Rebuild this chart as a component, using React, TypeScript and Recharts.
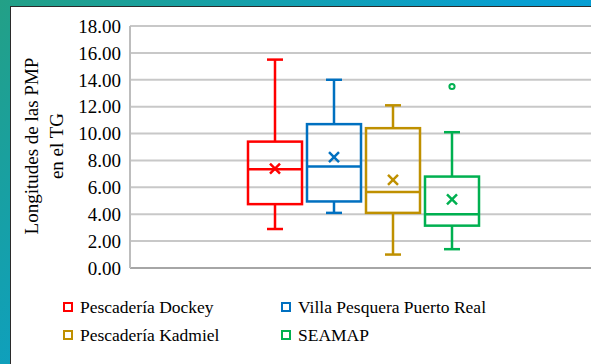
import React from "react";
import { BarChart, Bar, XAxis, YAxis, CartesianGrid, Label } from "recharts";

const SERIES = [
  "Pescadería Dockey",
  "Villa Pesquera Puerto Real",
  "Pescadería Kadmiel",
  "SEAMAP",
];
const COLORS = ["#ff0000", "#0070c0", "#bf9000", "#00b050"];
const MIN = [2.9, 4.1, 1.0, 1.4];
const Q1 = [4.75, 4.95, 4.1, 3.15];
const MEDIAN = [7.35, 7.55, 5.65, 4.0];
const Q3 = [9.4, 10.7, 10.4, 6.8];
const MAX = [15.5, 14.0, 12.1, 10.1];
const MEAN = [7.4, 8.25, 6.55, 5.1];
const OUTLIERS: number[][] = [[], [], [], [13.5]];
const Y_TICKS = [0, 2, 4, 6, 8, 10, 12, 14, 16, 18];

const FONT = "'Liberation Serif', serif";

// one category, one range bar [q1, q3] per series
const row: Record<string, any> = { cat: "" };
SERIES.forEach((_, i) => {
  row[`box${i}`] = [Q1[i], Q3[i]];
});
const data = [row];

function makeBoxShape(i: number) {
  return (props: any) => {
    const { x, y, width, height } = props;
    const top = Math.min(y, y + height);
    const bot = Math.max(y, y + height);
    const ppu = (bot - top) / (Q3[i] - Q1[i]);
    const py = (v: number) => bot - (v - Q1[i]) * ppu;
    const cx = x + width / 2;
    const c = COLORS[i];
    const cap = 8;
    const m = 5;
    const my = py(MEAN[i]);
    return (
      <g stroke={c} strokeWidth={2.5} fill="none">
        <line x1={cx} x2={cx} y1={py(MAX[i])} y2={top} />
        <line x1={cx - cap} x2={cx + cap} y1={py(MAX[i])} y2={py(MAX[i])} />
        <line x1={cx} x2={cx} y1={bot} y2={py(MIN[i])} />
        <line x1={cx - cap} x2={cx + cap} y1={py(MIN[i])} y2={py(MIN[i])} />
        <rect x={x} y={top} width={width} height={bot - top} />
        <line x1={x} x2={x + width} y1={py(MEDIAN[i])} y2={py(MEDIAN[i])} />
        <line x1={cx - m} x2={cx + m} y1={my - m} y2={my + m} />
        <line x1={cx - m} x2={cx + m} y1={my + m} y2={my - m} />
        {OUTLIERS[i].map((o, k) => (
          <circle key={k} cx={cx} cy={py(o)} r={2.6} strokeWidth={2} />
        ))}
      </g>
    );
  };
}

function YLabel() {
  return (
    <text
      transform="rotate(-90)"
      textAnchor="middle"
      fontFamily={FONT}
      fontSize={19}
      fill="#000"
    >
      <tspan x={-146} y={38}>
        Longitudes de las PMP
      </tspan>
      <tspan x={-146} y={63}>
        en el TG
      </tspan>
    </text>
  );
}

export default function App() {
  return (
    <div
      style={{
        position: "absolute",
        left: 0,
        top: 0,
        width: 591,
        height: 364,
        overflow: "hidden",
        background:
          "linear-gradient(135deg, #23a086 0%, #13a0b0 30%, #089fd2 55%, #069ed8 100%)",
      }}
    >
      <div
        style={{
          position: "absolute",
          left: 10,
          top: 6,
          width: 600,
          height: 400,
          background: "#fff",
          borderLeft: "1px solid #2b2b2b",
          borderTop: "1px solid #2b2b2b",
        }}
      />
      <div style={{ position: "absolute", left: 0, top: 0 }}>
        <BarChart
          width={610}
          height={364}
          data={data}
          margin={{ top: 26, right: 13, left: 0, bottom: 95 }}
          barSize={54}
          barGap={5}
        >
          <CartesianGrid
            vertical={false}
            stroke="#c8c8c8"
            strokeWidth={2}
          />
          <XAxis
            dataKey="cat"
            tick={false}
            tickLine={false}
            height={1}
            axisLine={{ stroke: "#a6a6a6", strokeWidth: 2 }}
          />
          <YAxis
            width={130}
            domain={[0, 18]}
            ticks={Y_TICKS}
            interval={0}
            tickFormatter={(v: number) => v.toFixed(2)}
            tick={{ fill: "#000", fontSize: 19, fontFamily: FONT }}
            tickLine={false}
            tickSize={6}
            tickMargin={3}
            axisLine={{ stroke: "#bdbdbd", strokeWidth: 2 }}
          >
            <Label content={() => <YLabel />} />
          </YAxis>
          {SERIES.map((name, i) => (
            <Bar
              key={name}
              dataKey={`box${i}`}
              name={name}
              fill="none"
              shape={makeBoxShape(i)}
              isAnimationActive={false}
            />
          ))}
        </BarChart>
      </div>
      <div
        style={{
          position: "absolute",
          left: 63,
          top: 293,
          display: "grid",
          gridTemplateColumns: "218px auto",
          gridAutoRows: "28px",
          fontFamily: FONT,
          fontSize: 17.5,
          color: "#000",
        }}
      >
        {SERIES.map((name, i) => (
          <div key={name} style={{ display: "flex", alignItems: "center" }}>
            <span
              style={{
                display: "inline-block",
                width: 6,
                height: 6,
                border: `2.5px solid ${COLORS[i]}`,
                marginRight: 7,
              }}
            />
            <span>{name}</span>
          </div>
        ))}
      </div>
    </div>
  );
}
